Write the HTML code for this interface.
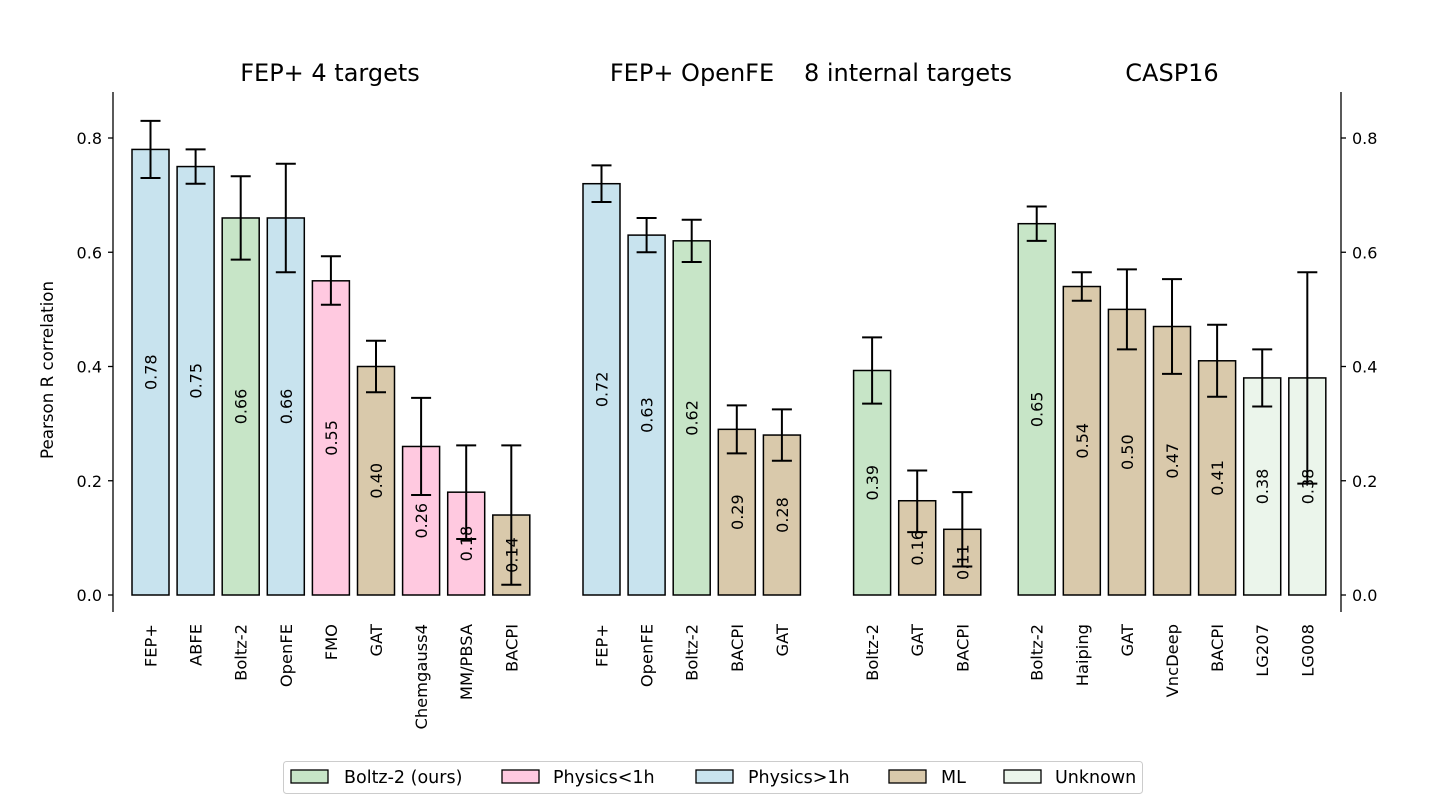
<!DOCTYPE html>
<html><head><meta charset="utf-8">
<style>
body{margin:0;background:#fff;}
svg{display:block;font-family:"DejaVu Sans","Liberation Sans",sans-serif;}
</style></head>
<body>
<svg id="chart" width="1450" height="810" viewBox="0 0 1450 810" xmlns="http://www.w3.org/2000/svg"></svg>
<script>
const groupTitles = ["FEP+ 4 targets","FEP+ OpenFE","8 internal targets","CASP16"];
const groupOffsets = [0,10,16,19.65];
const categories = [
 ["FEP+","ABFE","Boltz-2","OpenFE","FMO","GAT","Chemgauss4","MM/PBSA","BACPI"],
 ["FEP+","OpenFE","Boltz-2","BACPI","GAT"],
 ["Boltz-2","GAT","BACPI"],
 ["Boltz-2","Haiping","GAT","VncDeep","BACPI","LG207","LG008"]
];
const values = [
 [0.78,0.75,0.66,0.66,0.55,0.40,0.26,0.18,0.14],
 [0.72,0.63,0.62,0.29,0.28],
 [0.393,0.165,0.115],
 [0.65,0.54,0.50,0.47,0.41,0.38,0.38]
];
const labels = [
 ["0.78","0.75","0.66","0.66","0.55","0.40","0.26","0.18","0.14"],
 ["0.72","0.63","0.62","0.29","0.28"],
 ["0.39","0.16","0.11"],
 ["0.65","0.54","0.50","0.47","0.41","0.38","0.38"]
];
const errLow = [
 [0.73,0.72,0.587,0.565,0.508,0.355,0.175,0.098,0.018],
 [0.688,0.60,0.583,0.248,0.235],
 [0.335,0.11,0.05],
 [0.62,0.515,0.43,0.387,0.347,0.33,0.195]
];
const errHigh = [
 [0.83,0.78,0.733,0.755,0.593,0.445,0.345,0.262,0.262],
 [0.752,0.66,0.657,0.332,0.325],
 [0.451,0.218,0.18],
 [0.68,0.565,0.57,0.553,0.473,0.43,0.565]
];
const kinds = [
 ["phys>","phys>","boltz","phys>","phys<","ml","phys<","phys<","ml"],
 ["phys>","phys>","boltz","ml","ml"],
 ["boltz","ml","ml"],
 ["boltz","ml","ml","ml","ml","unk","unk"]
];
const yTicks = [0.0,0.2,0.4,0.6,0.8];
const legendNames = ["Boltz-2 (ours)","Physics<1h","Physics>1h","ML","Unknown"];
const legendKinds = ["boltz","phys<","phys>","ml","unk"];

const colors = {"boltz":"#c7e5c7","phys<":"#ffc9e0","phys>":"#c8e3ee","ml":"#d9c9ab","unk":"#ebf5eb"};
const svg = document.getElementById('chart');
const NS = "http://www.w3.org/2000/svg";
const y = v => 595 - v*571.25;
const x = i => 150.5 + i*45.1;
function mk(tag, attrs, parent){const e=document.createElementNS(NS,tag);for(const k in attrs)e.setAttribute(k,attrs[k]);(parent||svg).appendChild(e);return e;}

let a = mk('line',{x1:113,y1:92,x2:113,y2:612,stroke:'#000','stroke-width':1.3});


a = mk('line',{x1:1341,y1:92,x2:1341,y2:612,stroke:'#000','stroke-width':1.3});


yTicks.forEach(t=>{
  mk('line',{x1:108,y1:y(t),x2:113,y2:y(t),stroke:'#000','stroke-width':1.3});
  mk('line',{x1:1341,y1:y(t),x2:1346,y2:y(t),stroke:'#000','stroke-width':1.3});
  let tl = mk('text',{x:102,y:y(t)+6,'text-anchor':'end','font-size':16});
  tl.textContent=t.toFixed(1);
  
  
  let tr = mk('text',{x:1352,y:y(t)+6,'text-anchor':'start','font-size':16});
  tr.textContent=t.toFixed(1);
  
  
});
let yt = mk('text',{x:0,y:0,transform:'translate(53,370) rotate(-90)','text-anchor':'middle','font-size':16.7});
yt.textContent='Pearson R correlation';



const titleX = [330,692,908,1172];
groupTitles.forEach((g,gi)=>{
  let t = mk('text',{x:titleX[gi],y:81,'text-anchor':'middle','font-size':24});
  t.textContent=g;
  
  
});

categories.forEach((cats,gi)=>{
  cats.forEach((c,i)=>{
    const cx = x(groupOffsets[gi]+i);
    const v = values[gi][i];
    const r = mk('rect',{x:cx-18.5,y:y(v),width:37,height:y(0)-y(v),fill:colors[kinds[gi][i]],stroke:'#000','stroke-width':1.5});
    
    
    const vl = mk('text',{x:0,y:0,transform:`translate(${cx+6},${y(v/2)}) rotate(-90)`,'text-anchor':'middle','font-size':16});
    vl.textContent=labels[gi][i];
    
    
    const lo=errLow[gi][i], hi=errHigh[gi][i];
    const eg = mk('g',{stroke:'#000','stroke-width':2});
    
    
    mk('line',{x1:cx,y1:y(lo),x2:cx,y2:y(hi)},eg);
    mk('line',{x1:cx-10,y1:y(lo),x2:cx+10,y2:y(lo)},eg);
    mk('line',{x1:cx-10,y1:y(hi),x2:cx+10,y2:y(hi)},eg);
    const xl = mk('text',{x:0,y:0,transform:`translate(${cx+6},${624}) rotate(-90)`,'text-anchor':'end','font-size':16.3});
    xl.textContent=c;
    
    
  });
});

const lg = mk('g',{});


mk('rect',{x:283.5,y:761.5,width:859,height:32,rx:3,fill:'#fff',stroke:'#ccc','stroke-width':1},lg);
const patchX=[291,502,696,889,1004], textX=[344,553,748,941,1055];
legendNames.forEach((n,i)=>{
  const p = mk('rect',{x:patchX[i],y:770,width:37,height:13,fill:colors[legendKinds[i]],stroke:'#000','stroke-width':1.3},lg);
  
  
  const t = mk('text',{x:textX[i],y:783,'font-size':17.5},lg);
  t.textContent=n;
  
  
});
</script>
</body></html>
